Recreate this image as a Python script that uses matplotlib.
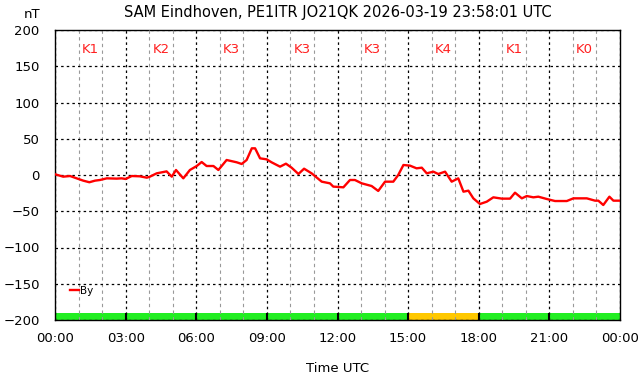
import matplotlib
matplotlib.use("Agg")
import matplotlib.pyplot as plt
from matplotlib.ticker import MultipleLocator

# By component (nT) vs hour of day
hours = [0.0, 0.35, 0.64, 0.92, 1.2, 1.46, 1.7, 1.91, 2.2, 2.62, 2.83, 3.0,
         3.26, 3.6, 3.9, 4.03, 4.32, 4.74, 4.96, 5.14, 5.45, 5.73, 6.02, 6.23,
         6.44, 6.73, 6.94, 7.29, 7.72, 7.93, 8.14, 8.36, 8.5, 8.71, 8.99, 9.2,
         9.56, 9.81, 10.05, 10.34, 10.58, 10.9, 11.33, 11.68, 11.82, 12.25,
         12.53, 12.74, 13.03, 13.45, 13.73, 14.02, 14.37, 14.58, 14.8, 15.08,
         15.36, 15.58, 15.79, 16.07, 16.28, 16.57, 16.85, 17.13, 17.35, 17.56,
         17.77, 18.05, 18.34, 18.62, 18.98, 19.33, 19.54, 19.83, 20.04, 20.32,
         20.53, 20.89, 21.24, 21.74, 22.02, 22.59, 22.94, 23.08, 23.29, 23.55,
         23.72, 24.0]
by_nt = [1, -2.3, -1.4, -4.6, -7.8, -10, -7.8, -6.9, -4.6, -5, -4.6, -5.5,
         -1.4, -1.8, -3.7, -2.3, 2.3, 5, -2.3, 6.9, -4.6, 6.9, 12.4, 17.9,
         12.4, 12.4, 6.9, 20.7, 17.5, 15.2, 20.7, 36.8, 36.8, 23, 21.6, 17.5,
         11.5, 15.6, 10.1, 1.4, 8.7, 2.3, -9.2, -11.5, -16, -17,
         -6.9, -6.9, -11.5, -15.2, -22, -9.2, -9.2, 0, 13.8, 12.9,
         9.2, 10.1, 2.3, 4.6, 1.4, 4.6, -9.2, -4.6, -23, -21.6,
         -32.2, -40, -36.8, -30.8, -32.6, -32.6, -24.4, -32.2, -29, -30.8,
         -29.9, -33.1, -35.9, -35.9, -32.2, -32.2, -35.4, -35.4, -41.4, -29.9,
         -35.4, -35.4]

# 3-hour K index
k_start = [0, 3, 6, 9, 12, 15, 18, 21]
k_index = [1, 2, 3, 3, 3, 4, 1, 0]
k_colors = ['#22ee22' if k < 4 else '#ffc800' for k in k_index]

fig = plt.figure(figsize=(6.42, 3.76), dpi=100)
ax = fig.add_axes([55 / 642, 56 / 376, 565 / 642, 290 / 376])

ax.set_xlim(0, 24)
ax.set_ylim(-200, 200)

# K index bar along the bottom
ax.bar(k_start, [10] * len(k_start), width=3, bottom=-200, align='edge',
       color=k_colors, edgecolor='none', zorder=1)
ax.vlines(k_start[1:], -200, -190, color='black', lw=1.5, zorder=2)

ax.xaxis.set_major_locator(MultipleLocator(3))
ax.xaxis.set_minor_locator(MultipleLocator(1))
ax.yaxis.set_major_locator(MultipleLocator(50))
ax.grid(which='minor', axis='x', color='#999999', linestyle=(0, (3, 3)), lw=0.8)
ax.grid(which='major', color='black', linestyle=(0, (2, 2.5)), lw=0.9)
ax.set_axisbelow(False)

ax.plot(hours, by_nt, color='#ff0000', lw=1.7, label='By', zorder=3)

for s, k in zip(k_start, k_index):
    ax.text(s + 1.5, 173, 'K%d' % k, color='#ff2020', fontsize=9.5,
            ha='center', va='center')

ax.set_xticks(range(0, 25, 3))
ax.set_xticklabels(['%02d:00' % (h % 24) for h in range(0, 25, 3)])
ax.tick_params(which='both', length=0, labelsize=9.5, pad=9)
ax.tick_params(axis='y', pad=11)
for sp in ax.spines.values():
    sp.set_color('black')
    sp.set_linewidth(1)

ax.set_xlabel('Time UTC', fontsize=9.5, labelpad=12)
fig.text(32 / 642, 1 - 15 / 376, 'nT', fontsize=9.5, ha='center', va='center')
fig.text(337.5 / 642, 1 - 12 / 376,
         'SAM Eindhoven, PE1ITR JO21QK 2026-03-19 23:58:01 UTC',
         fontsize=10.5, ha='center', va='center')

leg = ax.legend(loc='lower left', bbox_to_anchor=(0.02, 0.07), frameon=False,
                fontsize=7.5, handlelength=0.8, handletextpad=0.1,
                borderaxespad=0)

fig.savefig('out.png', dpi=100)
